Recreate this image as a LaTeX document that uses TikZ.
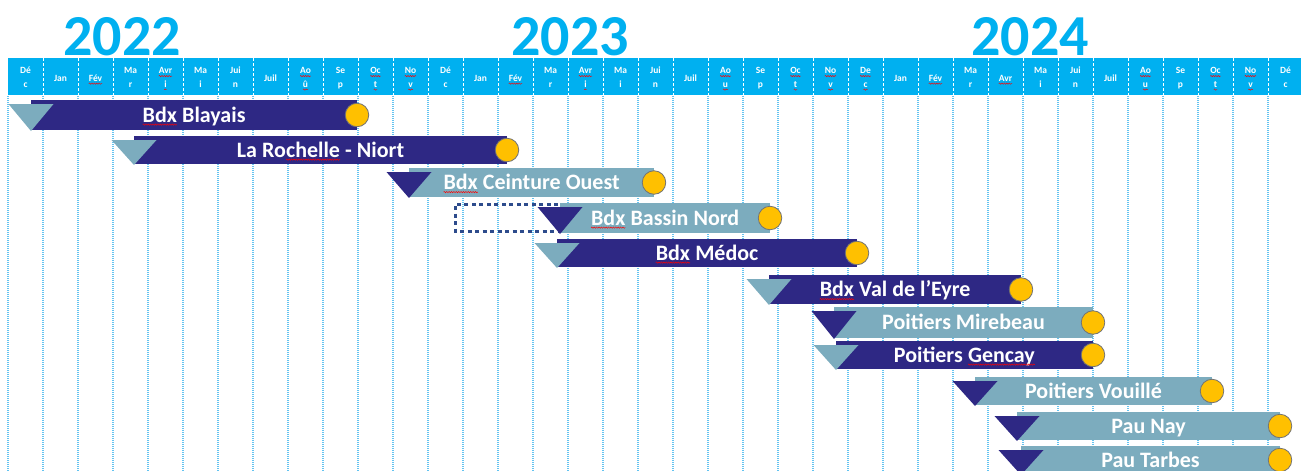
\documentclass[tikz,border=0pt]{standalone}
\usepackage{fontspec}
\setmainfont{Carlito}
\usetikzlibrary{calc,decorations.pathmorphing}
\definecolor{hdr}{RGB}{0,176,240}
\definecolor{navy}{RGB}{46,40,132}
\definecolor{steel}{RGB}{124,172,190}
\definecolor{gold}{RGB}{255,192,0}
\definecolor{gridc}{RGB}{100,195,240}
\definecolor{dotc}{RGB}{45,75,140}
\newcommand\squig[1]{\tikz[baseline=(sq.base)]{\node[inner sep=0pt,outer sep=0pt,text=white] (sq) {#1};
 \draw[red, line width=0.45pt, decorate, decoration={snake, amplitude=0.7pt, segment length=2.4pt}] ([yshift=-2.6pt]sq.base west) -- ([yshift=-2.6pt]sq.base east);}}
\tikzset{
 mon/.style={text=white, font=\fontsize{9.5}{11}\selectfont\bfseries, inner sep=0pt, anchor=base},
 year/.style={text=hdr, font=\fontsize{58}{58}\selectfont\bfseries, inner sep=0pt, anchor=base},
 gbar/.style={inner sep=0pt, outer sep=0pt, text=white, font=\fontsize{22}{22}\selectfont\bfseries, text height=14pt, text depth=0pt},
 mile/.style={circle, fill=gold, draw=gray!90!black, line width=0.8pt, minimum size=23.5pt, inner sep=0pt},
 gridline/.style={gridc, line width=1.3pt, dash pattern=on 1pt off 1pt},
 hdrline/.style={white, line width=1pt, dash pattern=on 3pt off 2pt},
 dotbox/.style={dotc, line width=3pt, dash pattern=on 4pt off 3.5pt},
}
\newcommand\mtwo[3]{%
 \node[mon] (m#1a) at (25.5+35*#1,73.5) {#2};
 \node[mon] (m#1b) at (25.5+35*#1,87) {#3};}
\newcommand\mone[2]{%
 \node[mon] (m#1) at (25.5+35*#1,81) {#2};}
\newcommand\ganttbar[8]{%
 \pgfmathsetmacro\bw{#3-#2}\pgfmathsetmacro\bh{#5-#4}%
 \pgfmathsetmacro\bx{(#2+#3)/2}\pgfmathsetmacro\by{(#4+#5)/2}%
 \node[gbar, fill=#6, minimum width=\bw pt, minimum height=\bh pt] (#1) at (\bx,\by) {};
 \fill[#7] ($(#1.north west)+(-22.5,4)$) -- ($(#1.north west)+(22.5,4)$) -- ($(#1.south west)+(0,1)$) -- cycle;
 \node[mile] (#1-m) at (#1.east) {};
 \node[gbar] (#1-t) at (#1.center) {#8};
}
\begin{document}
\begin{tikzpicture}[x=1pt,y=-1pt]
\useasboundingbox (0,0) rectangle (1301,471);
\clip (0,0) rectangle (1301,471);
% header band
\node[fill=hdr, minimum width=1293pt, minimum height=37pt, inner sep=0pt, anchor=north west] (header) at (8,58) {};
\foreach \i in {1,...,36} \draw[hdrline] (8+35*\i,58) -- (8+35*\i,95);
\foreach \i in {0,...,36} \draw[gridline] (8+35*\i,96) -- (8+35*\i,471);
% years
\node[year] (y2022) at (122,55) {2022};
\node[year] (y2023) at (570,55) {2023};
\node[year] (y2024) at (1030,55) {2024};
% months
\mtwo{0}{Dé}{c}
\mone{1}{Jan}
\mone{2}{\squig{Fév}}
\mtwo{3}{Ma}{r}
\mtwo{4}{\squig{Avr}}{\squig{i}}
\mtwo{5}{Ma}{i}
\mtwo{6}{Jui}{n}
\mone{7}{Juil}
\mtwo{8}{\squig{Ao}}{\squig{û}}
\mtwo{9}{Se}{p}
\mtwo{10}{\squig{Oc}}{\squig{t}}
\mtwo{11}{\squig{No}}{\squig{v}}
\mtwo{12}{Dé}{c}
\mone{13}{Jan}
\mone{14}{\squig{Fév}}
\mtwo{15}{Ma}{r}
\mtwo{16}{\squig{Avr}}{\squig{i}}
\mtwo{17}{Ma}{i}
\mtwo{18}{Jui}{n}
\mone{19}{Juil}
\mtwo{20}{\squig{Ao}}{\squig{u}}
\mtwo{21}{Se}{p}
\mtwo{22}{\squig{Oc}}{\squig{t}}
\mtwo{23}{\squig{No}}{\squig{v}}
\mtwo{24}{\squig{De}}{\squig{c}}
\mone{25}{Jan}
\mone{26}{\squig{Fév}}
\mtwo{27}{Ma}{r}
\mone{28}{\squig{Avr}}
\mtwo{29}{Ma}{i}
\mtwo{30}{Jui}{n}
\mone{31}{Juil}
\mtwo{32}{\squig{Ao}}{\squig{u}}
\mtwo{33}{Se}{p}
\mtwo{34}{\squig{Oc}}{\squig{t}}
\mtwo{35}{\squig{No}}{\squig{v}}
\mtwo{36}{Dé}{c}
% bars
\ganttbar{b1}{31}{357}{100}{130}{navy}{steel}{\squig{Bdx} Blayais}
\ganttbar{b2}{134}{507}{136}{164}{navy}{steel}{La Ro\squig{chelle} - Niort}
\ganttbar{b3}{409}{654}{168}{197}{steel}{navy}{\squig{Bdx} Ceinture Ouest}
\draw[dotbox] (558,204) -- (455,204) -- (455,231) -- (558,231);
\ganttbar{b4}{560}{770}{203}{233}{steel}{navy}{\squig{Bdx} Bassin Nord}
\ganttbar{b5}{557}{857}{239}{267}{navy}{steel}{\squig{Bdx} Médoc}
\ganttbar{b6}{769}{1021}{275}{304}{navy}{steel}{\squig{Bdx} Val de l’Eyre}
\ganttbar{b7}{834}{1093}{307}{338}{steel}{navy}{Poitiers Mirebeau}
\ganttbar{b8}{836}{1093}{341}{369}{navy}{steel}{Poitiers \squig{Gencay}}
\ganttbar{b9}{975}{1212}{377}{405}{steel}{navy}{Poitiers Vouillé}
\ganttbar{b10}{1017}{1280}{412}{440}{steel}{navy}{Pau Nay}
\ganttbar{b11}{1021}{1280}{446}{474}{steel}{navy}{Pau Tarbes}
\end{tikzpicture}
\end{document}
